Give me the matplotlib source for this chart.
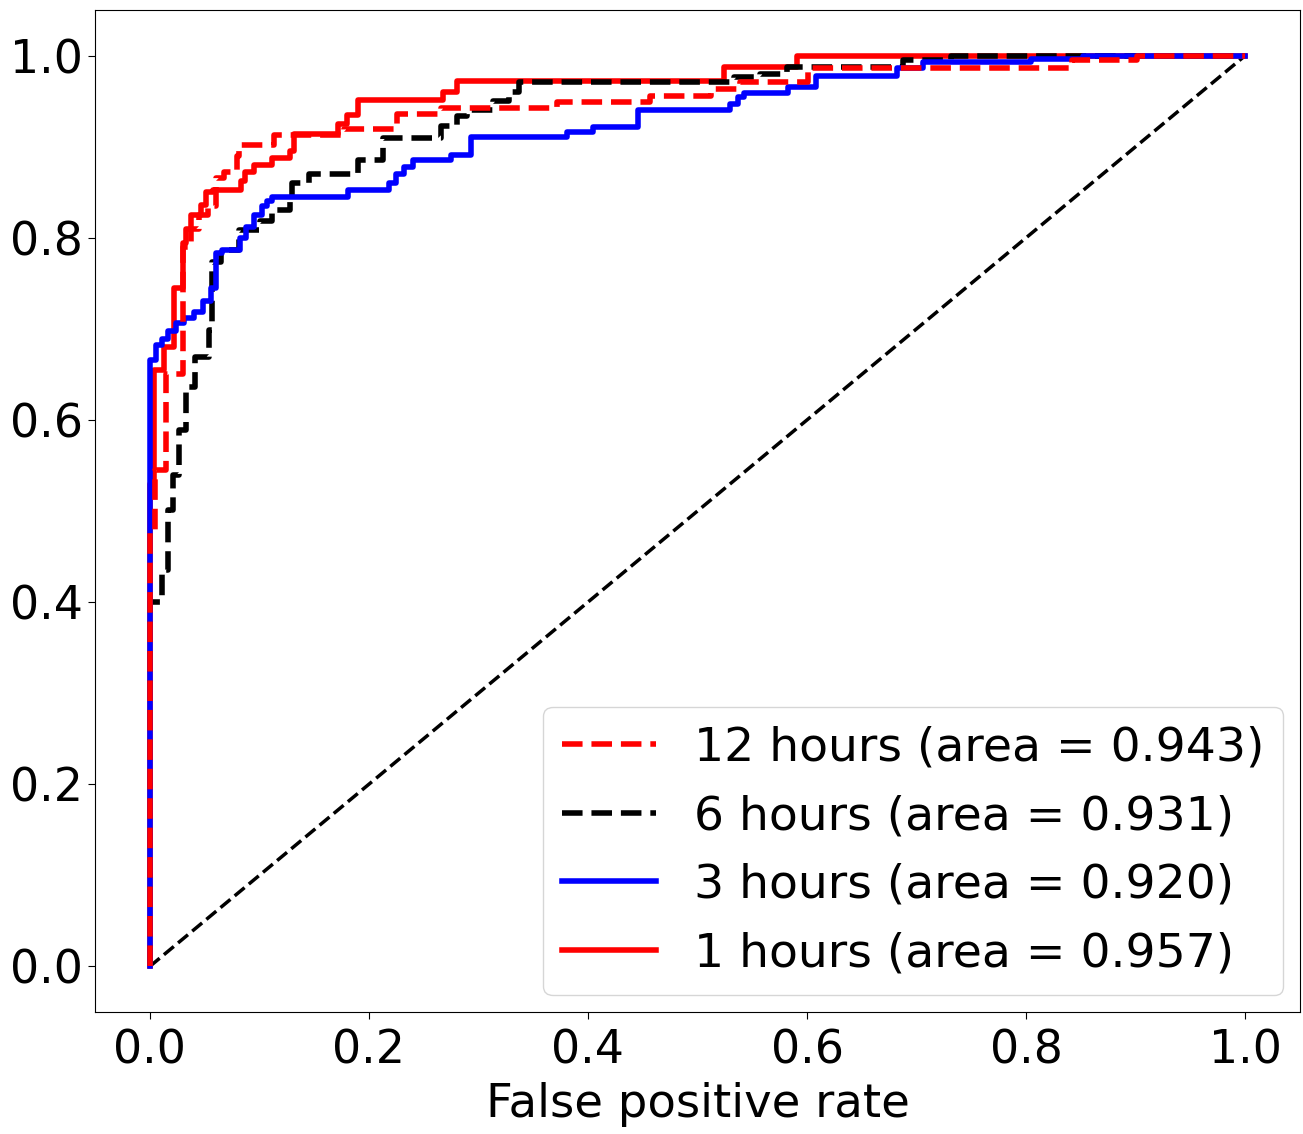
import matplotlib
matplotlib.use("Agg")
import matplotlib.pyplot as plt
import numpy as np

# ROC staircases: each fpr value is where the curve steps up to the matching tpr
fpr_12h = [0.000, 0.005, 0.015, 0.030, 0.038, 0.045, 0.053, 0.060, 0.068, 0.080,
           0.081, 0.113, 0.177, 0.226, 0.266, 0.372, 0.457, 0.512, 0.539, 0.601,
           0.842, 0.901]
tpr_12h = [0.479, 0.545, 0.650, 0.790, 0.810, 0.825, 0.835, 0.866, 0.872, 0.890,
           0.902, 0.913, 0.919, 0.936, 0.942, 0.949, 0.956, 0.963, 0.971, 0.986,
           0.995, 1.000]

fpr_6h = [0.000, 0.011, 0.017, 0.021, 0.027, 0.033, 0.041, 0.054, 0.057, 0.065,
          0.081, 0.101, 0.112, 0.128, 0.130, 0.145, 0.190, 0.213, 0.266, 0.280,
          0.290, 0.313, 0.328, 0.337, 0.533, 0.557, 0.582, 0.688, 0.731]
tpr_6h = [0.400, 0.435, 0.501, 0.540, 0.589, 0.636, 0.669, 0.699, 0.773, 0.787,
          0.808, 0.818, 0.830, 0.840, 0.860, 0.870, 0.885, 0.909, 0.923, 0.934,
          0.940, 0.950, 0.960, 0.971, 0.976, 0.980, 0.987, 0.995, 1.000]

fpr_3h = [0.000, 0.006, 0.011, 0.017, 0.024, 0.031, 0.040, 0.049, 0.056, 0.060,
          0.066, 0.082, 0.088, 0.095, 0.102, 0.107, 0.112, 0.181, 0.218, 0.225,
          0.232, 0.240, 0.275, 0.293, 0.381, 0.405, 0.446, 0.530, 0.537, 0.542,
          0.583, 0.608, 0.682, 0.706, 0.804, 0.852]
tpr_3h = [0.666, 0.682, 0.689, 0.698, 0.706, 0.712, 0.719, 0.730, 0.745, 0.783,
          0.787, 0.800, 0.812, 0.825, 0.835, 0.840, 0.845, 0.852, 0.860, 0.870,
          0.878, 0.885, 0.891, 0.911, 0.916, 0.922, 0.940, 0.947, 0.954, 0.959,
          0.966, 0.977, 0.986, 0.993, 0.996, 1.000]

fpr_1h = [0.000, 0.004, 0.013, 0.022, 0.030, 0.033, 0.038, 0.047, 0.051, 0.058,
          0.083, 0.087, 0.095, 0.112, 0.128, 0.132, 0.172, 0.180, 0.190, 0.268,
          0.280, 0.524, 0.591]
tpr_1h = [0.530, 0.655, 0.680, 0.745, 0.794, 0.810, 0.825, 0.836, 0.850, 0.852,
          0.862, 0.872, 0.880, 0.887, 0.895, 0.914, 0.925, 0.935, 0.951, 0.960,
          0.972, 0.987, 1.000]

auc = {"12": 0.943, "6": 0.931, "3": 0.920, "1": 0.957}


def staircase(fpr, tpr):
    """Turn step positions into the corner points of an ROC curve."""
    xs = np.repeat(fpr, 2)
    ys = np.concatenate([[0.0], np.repeat(tpr, 2)[:-1]])
    xs = np.append(xs, 1.0)
    ys = np.append(ys, 1.0)
    return xs, ys


fig = plt.figure(figsize=(13.03, 11.34), dpi=100)
ax = fig.add_axes([95 / 1303, 1 - 1012 / 1134, 1205 / 1303, 1002 / 1134])

ax.plot([0, 1], [0, 1], "k--", linewidth=2.5)

curves = [
    ("1", fpr_1h, tpr_1h, "r", "-"),
    ("6", fpr_6h, tpr_6h, "k", "--"),
    ("3", fpr_3h, tpr_3h, "b", "-"),
    ("12", fpr_12h, tpr_12h, "r", "--"),
]
handles = {}
for hours, fpr, tpr, color, ls in curves:
    xs, ys = staircase(fpr, tpr)
    (line,) = ax.plot(xs, ys, color=color, linestyle=ls, linewidth=4,
                      label=f"{hours} hours (area = {auc[hours]:.3f})")
    handles[hours] = line

ax.set_xlim(-0.05, 1.05)
ax.set_ylim(-0.05, 1.05)
ax.set_xticks(np.arange(0, 1.01, 0.2))
ax.set_yticks(np.arange(0, 1.01, 0.2))
ax.tick_params(labelsize=33, length=5)
ax.tick_params(axis="x", pad=7)
ax.set_xlabel("False positive rate", fontsize=33.5, labelpad=6)

order = ["12", "6", "3", "1"]
ax.legend([handles[h] for h in order], [handles[h].get_label() for h in order],
          loc="lower right", fontsize=34, borderaxespad=0.35)

fig.savefig("out.png", dpi=100)
